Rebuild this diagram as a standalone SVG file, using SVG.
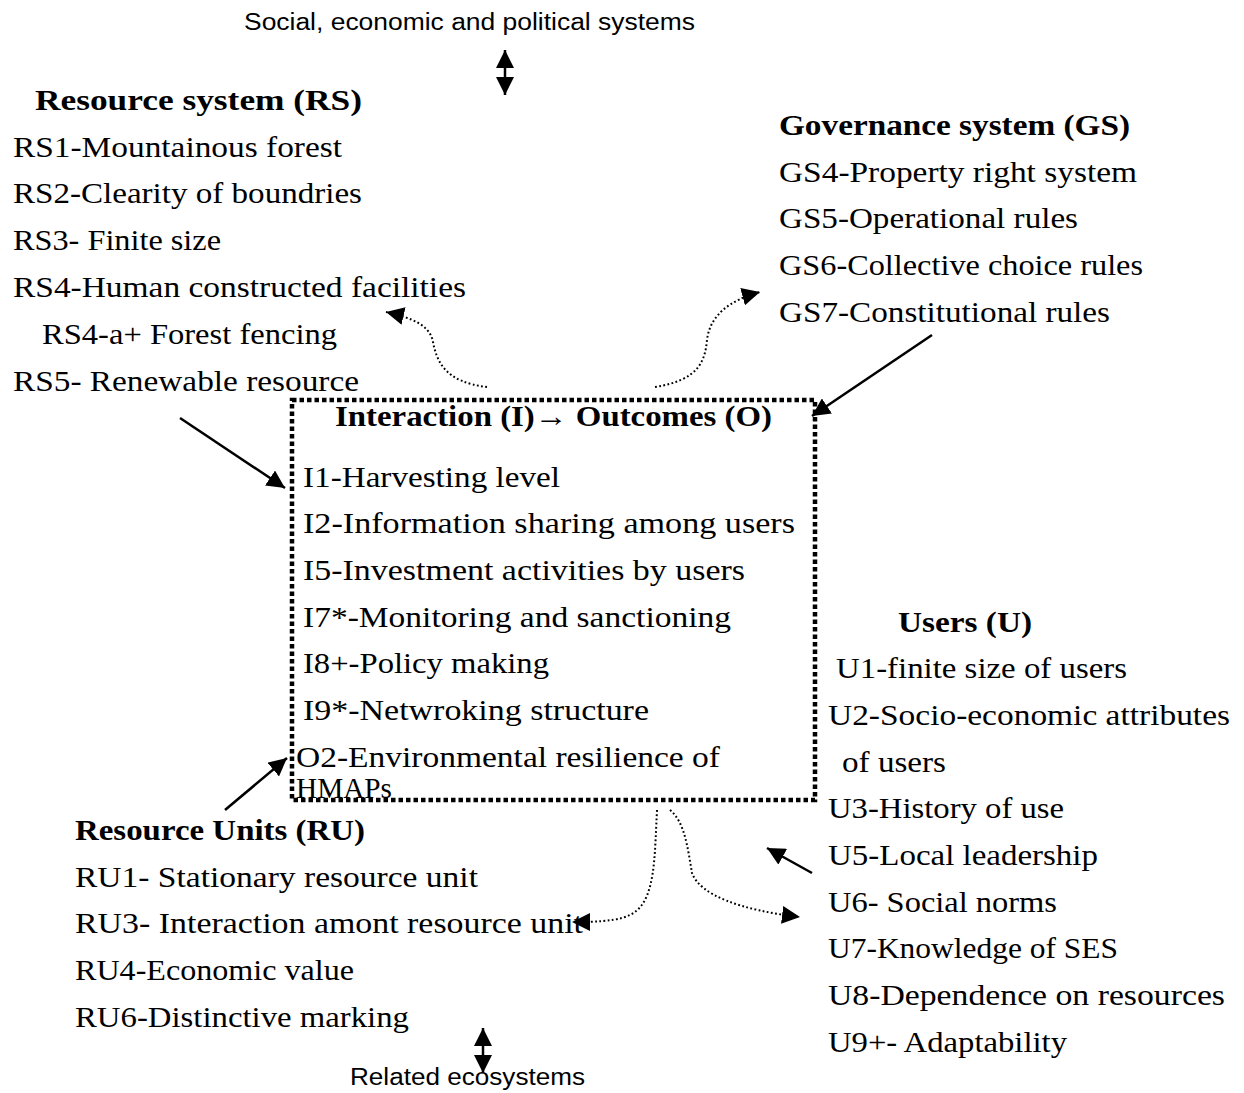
<svg xmlns="http://www.w3.org/2000/svg" width="1244" height="1093" viewBox="0 0 1244 1093">
<defs>
<style>
.t{font-family:"Liberation Serif","DejaVu Serif",serif;font-size:30px;fill:#000}
.b{font-family:"Liberation Serif","DejaVu Serif",serif;font-size:30px;font-weight:bold;fill:#000}
.s{font-family:"Liberation Sans","DejaVu Sans",sans-serif;font-size:23px;fill:#000}
.sol{fill:none;stroke:#000;stroke-width:2.5}
.dot{fill:none;stroke:#000;stroke-width:2;stroke-dasharray:1.8 2.4}
.box{fill:none;stroke:#000;stroke-width:4.5;stroke-dasharray:4.5 3}
</style>
<marker id="ahb" viewBox="0 0 10 10" refX="10" refY="5" markerWidth="18" markerHeight="18" markerUnits="userSpaceOnUse" orient="auto-start-reverse">
<path d="M0,0 L10,5 L0,10 z" fill="#000"/>
</marker>
</defs>
<rect width="1244" height="1093" fill="#fff"/>

<g id="top-env">
<text class="s" x="244" y="30" textLength="451" lengthAdjust="spacingAndGlyphs">Social, economic and political systems</text>
</g>

<g id="resource-system">
<text class="b" x="35" y="110" textLength="327" lengthAdjust="spacingAndGlyphs">Resource system (RS)</text>
<text class="t" x="13" y="157" textLength="329" lengthAdjust="spacingAndGlyphs">RS1-Mountainous forest</text>
<text class="t" x="13" y="203" textLength="349" lengthAdjust="spacingAndGlyphs">RS2-Clearity of boundries</text>
<text class="t" x="13" y="250" textLength="208" lengthAdjust="spacingAndGlyphs">RS3- Finite size</text>
<text class="t" x="13" y="297" textLength="453" lengthAdjust="spacingAndGlyphs">RS4-Human constructed facilities</text>
<text class="t" x="42" y="344" textLength="295" lengthAdjust="spacingAndGlyphs">RS4-a+ Forest fencing</text>
<text class="t" x="13" y="391" textLength="346" lengthAdjust="spacingAndGlyphs">RS5- Renewable resource</text>
</g>

<g id="governance-system">
<text class="b" x="779" y="135" textLength="351" lengthAdjust="spacingAndGlyphs">Governance system (GS)</text>
<text class="t" x="779" y="182" textLength="358" lengthAdjust="spacingAndGlyphs">GS4-Property right system</text>
<text class="t" x="779" y="228" textLength="299" lengthAdjust="spacingAndGlyphs">GS5-Operational rules</text>
<text class="t" x="779" y="275" textLength="364" lengthAdjust="spacingAndGlyphs">GS6-Collective choice rules</text>
<text class="t" x="779" y="322" textLength="331" lengthAdjust="spacingAndGlyphs">GS7-Constitutional rules</text>
</g>

<g id="interaction-outcomes">
<rect class="box" x="292" y="400" width="523" height="400"/>
<text class="b" x="335" y="426" textLength="437" lengthAdjust="spacingAndGlyphs">Interaction (I)→ Outcomes (O)</text>
<text class="t" x="303" y="487" textLength="257" lengthAdjust="spacingAndGlyphs">I1-Harvesting level</text>
<text class="t" x="303" y="533" textLength="492" lengthAdjust="spacingAndGlyphs">I2-Information sharing among users</text>
<text class="t" x="303" y="580" textLength="442" lengthAdjust="spacingAndGlyphs">I5-Investment activities by users</text>
<text class="t" x="303" y="627" textLength="428" lengthAdjust="spacingAndGlyphs">I7*-Monitoring and sanctioning</text>
<text class="t" x="303" y="673" textLength="246" lengthAdjust="spacingAndGlyphs">I8+-Policy making</text>
<text class="t" x="303" y="720" textLength="346" lengthAdjust="spacingAndGlyphs">I9*-Netwroking structure</text>
<text class="t" x="296" y="767" textLength="424" lengthAdjust="spacingAndGlyphs">O2-Environmental resilience of</text>
<text class="t" x="296" y="798" textLength="96" lengthAdjust="spacingAndGlyphs">HMAPs</text>
</g>

<g id="users">
<text class="b" x="898" y="632" textLength="134" lengthAdjust="spacingAndGlyphs">Users (U)</text>
<text class="t" x="836" y="678" textLength="291" lengthAdjust="spacingAndGlyphs">U1-finite size of users</text>
<text class="t" x="828" y="725" textLength="402" lengthAdjust="spacingAndGlyphs">U2-Socio-economic attributes</text>
<text class="t" x="842" y="772" textLength="104" lengthAdjust="spacingAndGlyphs">of users</text>
<text class="t" x="828" y="818" textLength="236" lengthAdjust="spacingAndGlyphs">U3-History of use</text>
<text class="t" x="828" y="865" textLength="270" lengthAdjust="spacingAndGlyphs">U5-Local leadership</text>
<text class="t" x="828" y="912" textLength="229" lengthAdjust="spacingAndGlyphs">U6- Social norms</text>
<text class="t" x="828" y="958" textLength="290" lengthAdjust="spacingAndGlyphs">U7-Knowledge of SES</text>
<text class="t" x="828" y="1005" textLength="397" lengthAdjust="spacingAndGlyphs">U8-Dependence on resources</text>
<text class="t" x="828" y="1052" textLength="239" lengthAdjust="spacingAndGlyphs">U9+- Adaptability</text>
</g>

<g id="resource-units">
<text class="b" x="75" y="840" textLength="290" lengthAdjust="spacingAndGlyphs">Resource Units (RU)</text>
<text class="t" x="75" y="887" textLength="403" lengthAdjust="spacingAndGlyphs">RU1- Stationary resource unit</text>
<text class="t" x="75" y="933" textLength="508" lengthAdjust="spacingAndGlyphs">RU3- Interaction amont resource unit</text>
<text class="t" x="75" y="980" textLength="279" lengthAdjust="spacingAndGlyphs">RU4-Economic value</text>
<text class="t" x="75" y="1027" textLength="334" lengthAdjust="spacingAndGlyphs">RU6-Distinctive marking</text>
</g>

<g id="bottom-env">
<text class="s" x="350" y="1085" textLength="235" lengthAdjust="spacingAndGlyphs">Related ecosystems</text>
</g>

<g id="connectors">
<line class="sol" x1="505" y1="50" x2="505" y2="95" marker-start="url(#ahb)" marker-end="url(#ahb)"/>
<line class="sol" x1="483" y1="1028" x2="483" y2="1073" marker-start="url(#ahb)" marker-end="url(#ahb)"/>
<line class="sol" x1="180" y1="418" x2="285" y2="488" marker-end="url(#ahb)"/>
<line class="sol" x1="932" y1="335" x2="812" y2="416" marker-end="url(#ahb)"/>
<line class="sol" x1="225" y1="810" x2="287" y2="758" marker-end="url(#ahb)"/>
<line class="sol" x1="812" y1="873" x2="767" y2="848" marker-end="url(#ahb)"/>
<path class="dot" d="M487,387 C445,382 437,362 433,342 C430,325 412,318 386,312" marker-end="url(#ahb)"/>
<path class="dot" d="M655,387 C700,380 705,360 707,340 C710,315 730,300 760,292" marker-end="url(#ahb)"/>
<path class="dot" d="M657,810 C655,850 655,880 645,900 C635,918 620,922 572,922" marker-end="url(#ahb)"/>
<path class="dot" d="M670,810 C685,822 688,850 692,873 C700,895 740,910 800,917" marker-end="url(#ahb)"/>
</g>
</svg>
